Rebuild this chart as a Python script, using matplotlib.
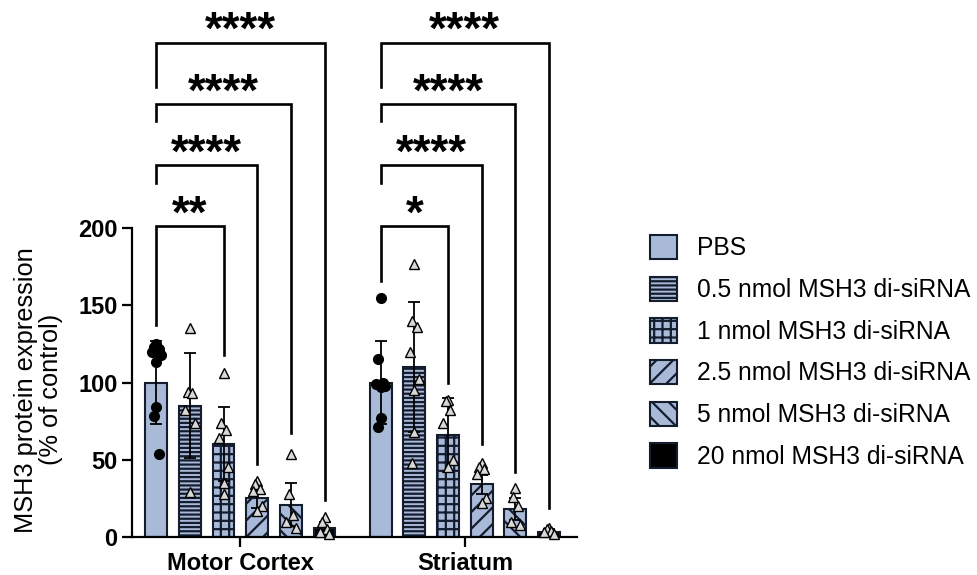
import numpy as np
import matplotlib
matplotlib.use('Agg')
import matplotlib.pyplot as plt
from matplotlib.patches import Patch

plt.rcParams['font.family'] = ['Liberation Sans', 'DejaVu Sans']
plt.rcParams['hatch.linewidth'] = 1.6

regions = ['Motor Cortex', 'Striatum']
groups = ['PBS', '0.5 nmol MSH3 di-siRNA', '1 nmol MSH3 di-siRNA',
          '2.5 nmol MSH3 di-siRNA', '5 nmol MSH3 di-siRNA', '20 nmol MSH3 di-siRNA']

mc_mean = [100, 85, 60, 25, 21, 6]
mc_sd = [27, 34, 24, 6, 14, 4]
st_mean = [100, 110, 66, 34, 18, 3]
st_sd = [27, 42, 24, 6, 7, 2]

mc_points = [
    [125, 123, 122, 120, 118, 113, 84, 78, 54],
    [135, 94, 93, 82, 74, 29],
    [106, 74, 69, 64, 45, 35, 28],
    [36, 34, 31, 30, 20, 17],
    [54, 28, 14, 10, 6],
    [13, 10, 5, 3, 2],
]
st_points = [
    [155, 115, 100, 99, 98, 97, 77, 71],
    [177, 140, 136, 120, 102, 95, 68, 48],
    [89, 88, 82, 74, 50, 45],
    [48, 45, 44, 41, 25, 22],
    [32, 26, 20, 10, 8],
    [6, 5, 4, 3, 2],
]

# significance vs PBS for 1, 2.5, 5 and 20 nmol
mc_stars = ['**', '****', '****', '****']
st_stars = ['*', '****', '****', '****']
comp_idx = [2, 3, 4, 5]

fill = '#a8bad8'
edge = '#141c2e'
hatches = ['', '----', '++', '//', '\\\\', '']
faces = [fill, fill, fill, fill, fill, 'black']

fig = plt.figure(figsize=(9.77, 5.75), dpi=100)
ax = fig.add_axes([132 / 977, 38 / 575, 445 / 977, 537 / 575])

group_offset = [0, 6.67]
w = 0.65
for g, (means, sds, pts) in enumerate([(mc_mean, mc_sd, mc_points), (st_mean, st_sd, st_points)]):
    xs = np.arange(6) + group_offset[g]
    for i in range(6):
        ax.bar(xs[i], means[i], width=w, color=faces[i], edgecolor=edge,
               hatch=hatches[i], linewidth=1.5, zorder=2)
        ax.errorbar(xs[i], means[i], yerr=sds[i], fmt='none', ecolor='black',
                    elinewidth=1.3, capsize=4, capthick=1.3, zorder=3)
        p = pts[i]
        jit = np.array([(-1) ** k * 0.07 * ((k + 1) // 2 % 3) for k in range(len(p))])
        if i == 0:
            ax.plot(xs[i] + jit, p, 'o', color='black', ms=7, zorder=4, clip_on=False)
        else:
            ax.plot(xs[i] + jit, p, '^', mfc='#d8d8d8', mec='black', mew=1.0, ms=6.5,
                    zorder=4, clip_on=False)

    stars = mc_stars if g == 0 else st_stars
    levels = [201, 241, 280, 320]
    left_drop = [137, 229, 269, 291] if g == 0 else [166, 229, 269, 291]
    right_drop = [118, 47, 67, 24] if g == 0 else [100, 60, 42, 19]
    for k, j in enumerate(comp_idx):
        x0, x1 = xs[0], xs[j]
        y = levels[k]
        ax.plot([x0, x0, x1, x1], [left_drop[k], y, y, right_drop[k]], color='black',
                lw=1.9, solid_joinstyle='miter', clip_on=False, zorder=5)
        ax.text((x0 + x1) / 2, y - 1, stars[k], ha='center', va='baseline',
                fontsize=33, fontweight='bold', clip_on=False)

ax.set_xlim(-0.72, 12.5)
ax.set_ylim(0, 347.6)
ax.spines['top'].set_visible(False)
ax.spines['right'].set_visible(False)
ax.spines['left'].set_bounds(0, 200)
ax.spines['left'].set_linewidth(1.6)
ax.spines['bottom'].set_linewidth(1.6)
ax.set_yticks([0, 50, 100, 150, 200])
ax.set_xticks([2.5, 2.5 + group_offset[1]])
ax.set_xticklabels(regions)
ax.tick_params(axis='both', width=1.6, length=7, labelsize=17)
for lab in ax.get_xticklabels() + ax.get_yticklabels():
    lab.set_fontweight('bold')
ax.set_ylabel('MSH3 protein expression\n(% of control)', fontsize=18.3, linespacing=1.05)
ax.yaxis.set_label_coords(-0.155, 0.274)

handles = [Patch(facecolor=faces[i], edgecolor=edge, hatch=hatches[i], linewidth=1.5)
           for i in range(6)]
fig.legend(handles, groups, loc='upper left', bbox_to_anchor=(650 / 977, 1 - 235 / 575),
           frameon=False, fontsize=17.7, handlelength=1.1, handleheight=1.14,
           handletextpad=0.8, labelspacing=0.66, borderpad=0, borderaxespad=0)

fig.savefig('out.png', dpi=100)
